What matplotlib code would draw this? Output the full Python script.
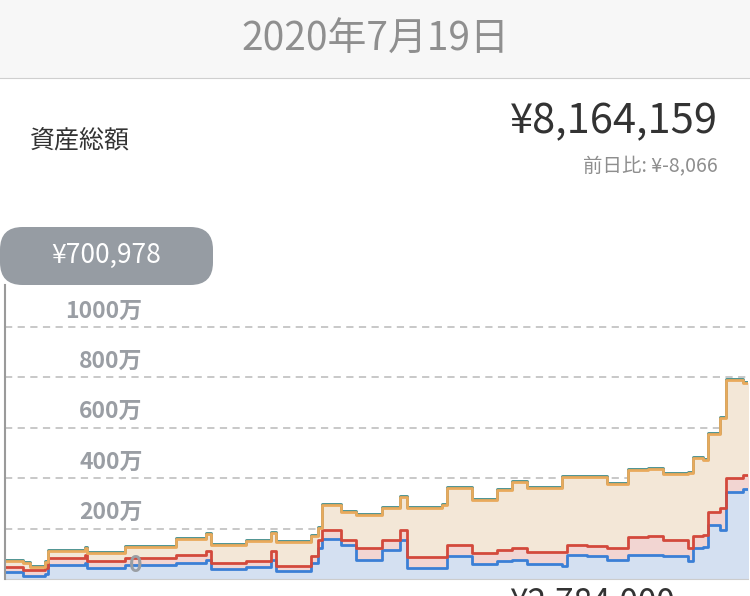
import numpy as np
import matplotlib.pyplot as plt
from matplotlib.patches import FancyBboxPatch

plt.rcParams['font.family'] = ['Noto Sans CJK JP', 'DejaVu Sans']

# day positions along the chart and stacked totals (in 万円)
days = [0, 18, 25, 40, 43, 80, 82, 120, 170, 200, 205, 240, 265, 270, 305, 312, 316, 335, 350,
        375, 393, 400, 435, 440, 465, 490, 505, 520, 555, 560, 580, 600, 615, 620, 640, 655,
        680, 685, 695, 700, 712, 718, 735, 745]
cash = [28, 12, 12, 20, 56, 63, 44, 56, 63, 75, 40, 48, 75, 32, 63, 123, 159, 135, 75,
        115, 155, 44, 44, 91, 60, 71, 75, 60, 52, 95, 91, 75, 75, 95, 95, 91,
        71, 123, 127, 214, 194, 345, 357, 373]
stocks = [48, 36, 36, 44, 83, 95, 71, 83, 95, 111, 63, 71, 111, 52, 91, 155, 194, 155, 123,
          155, 194, 87, 87, 135, 103, 115, 123, 107, 107, 135, 131, 123, 123, 167, 171, 155,
          123, 171, 175, 266, 282, 401, 413, 429]
funds = [71, 63, 48, 67, 111, 123, 103, 127, 159, 179, 135, 151, 183, 147, 171, 202, 294, 266, 254,
         282, 325, 282, 294, 361, 313, 353, 385, 361, 405, 405, 405, 377, 377, 433, 436, 417,
         421, 480, 472, 575, 639, 790, 778, 806]
other = [3] * len(days)
total = [f + o for f, o in zip(funds, other)]

yticks = [0, 200, 400, 600, 800, 1000]
ytick_labels = ["0", "200万", "400万", "600万", "800万", "1000万"]

W, H = 750, 596
fig = plt.figure(figsize=(W / 100, H / 100), dpi=100)

def fx(px):
    return px / W

def fy(py):
    return 1 - py / H

# header band
band = fig.add_axes([0, fy(78), 1, 78 / H])
band.set_facecolor('#f7f7f7')
band.set_xticks([]); band.set_yticks([])
for s in ['top', 'left', 'right']:
    band.spines[s].set_visible(False)
band.spines['bottom'].set_color('#cfcfcf')
fig.text(0.5, fy(40), "2020年7月19日", ha='center', va='center', fontsize=28, color='#8f8f8f')

fig.text(fx(30), fy(140), "資産総額", ha='left', va='center', fontsize=18, color='#333333')
fig.text(fx(718), fy(122), "¥8,164,159", ha='right', va='center', fontsize=30, color='#333333')
fig.text(fx(718), fy(167), "前日比: ¥-8,066", ha='right', va='center', fontsize=14, color='#8e8e8e')

# chart area
ax = fig.add_axes([fx(5), fy(579), fx(743), (579 - 290) / H])
ytop = (579 - 290) * 200 / 50.4
ax.set_xlim(0, 740)
ax.set_ylim(0, ytop)
ax.fill_between(days, 0, cash, color='#d4e0f1', lw=0, step='post')
ax.fill_between(days, cash, stocks, color='#f2d5d2', lw=0, step='post')
ax.fill_between(days, stocks, funds, color='#f3e7d7', lw=0, step='post')
ax.step(days, total, where='post', color='#3f8a88', lw=2)
ax.step(days, cash, where='post', color='#3b7fd6', lw=2)
ax.step(days, stocks, where='post', color='#d3493c', lw=2)
ax.step(days, funds, where='post', color='#e9aa5c', lw=2)
for v in yticks[1:]:
    ax.axhline(v, color='#c4c4c4', lw=1.3, ls=(0, (4, 3)), zorder=0)
for v, lab in zip(yticks, ytick_labels):
    yoff = 14 if v == 0 else 16
    ax.text(137, v + yoff * 200 / 50.4, lab, ha='right', va='center', fontsize=16.5,
            fontweight='bold', color='#9a9ea4')
ax.set_xticks([]); ax.set_yticks([])
for s in ['top', 'right', 'left']:
    ax.spines[s].set_visible(False)
ax.spines['bottom'].set_color('#cccccc')

# cursor line and tooltip
fig.add_artist(plt.Line2D([fx(5), fx(5)], [fy(285), fy(579)], color='#9a9a9a', lw=1.5))
tip = FancyBboxPatch((fx(0), fy(285)), fx(213), (285 - 227) / H,
                     boxstyle="round,pad=0,rounding_size=0.03", transform=fig.transFigure,
                     facecolor='#969ca3', edgecolor='none', mutation_aspect=750 / 596)
fig.add_artist(tip)
fig.text(fx(106), fy(255), "¥700,978", ha='center', va='center', fontsize=19, color='white')

fig.text(fx(592), fy(586), "¥2,784,000", ha='center', va='top', fontsize=24, color='#333333')

fig.savefig('out.png', dpi=100)
